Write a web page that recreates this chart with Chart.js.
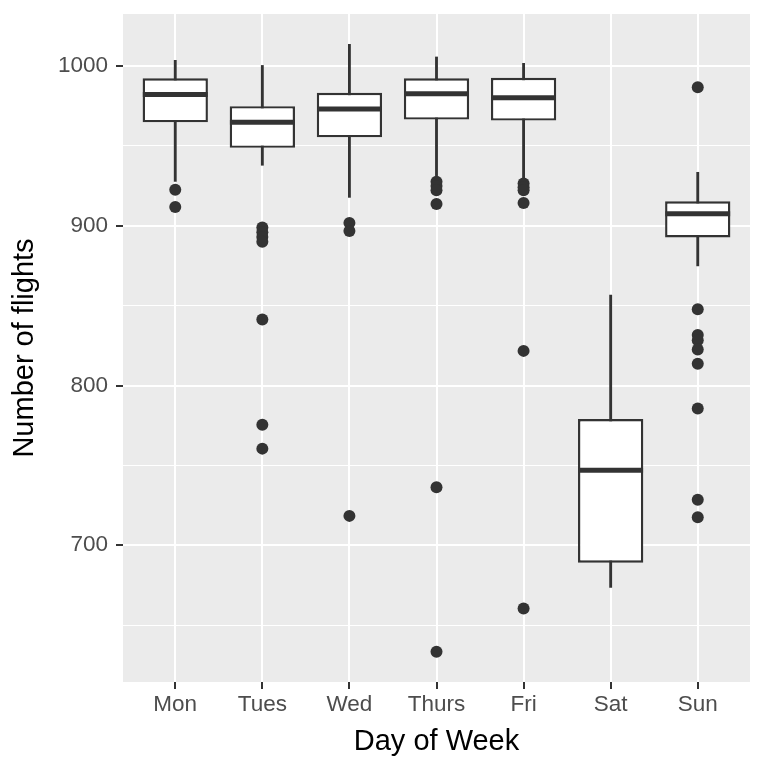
<!DOCTYPE html>
<html>
<head>
<meta charset="utf-8">
<script src="https://cdn.jsdelivr.net/npm/chart.js@4/dist/chart.umd.min.js"></script>
<style>
  html, body { margin: 0; padding: 0; background: #ffffff; }
  #wrap { width: 768px; height: 768px; }
</style>
</head>
<body>
<div id="wrap"><canvas id="flightsChart" width="768" height="768"></canvas></div>
<script>

/*=========================================
DATA
=========================================*/

const days = ["Mon", "Tues", "Wed", "Thurs", "Fri", "Sat", "Sun"];

const whiskerHigh = [1003.6, 1000.4, 1013.6, 1005.7, 1001.7, 856.7, 933.5];
const upperQuartile = [992.3, 974.9, 983.3, 992.3, 992.7, 779.0, 915.3];
const medians = [982.2, 964.8, 973.2, 982.7, 980.2, 746.9, 907.5];
const lowerQuartile = [964.8, 948.8, 955.4, 966.5, 965.9, 689.1, 892.7];
const whiskerLow = [927.8, 937.9, 917.8, 931.4, 929.3, 673.6, 874.9];

const outliers = [
    [922.6, 911.7],
    [899, 896, 893, 890, 841.4, 775.5, 760.5],
    [901.7, 896.7, 718.4],
    [927.6, 924.9, 922.2, 913.7, 736.3, 633.4],
    [926.5, 924.2, 922.2, 914.3, 821.7, 660.4],
    [],
    [986.8, 847.7, 831.6, 828.4, 822.6, 813.6, 785.6, 728.5, 717.5]
];

const yTicks = [650, 700, 750, 800, 850, 900, 950, 1000];
const yMin = 614.4;
const yMax = 1032.6;

/*=========================================
BUILD DATASETS
=========================================*/

const boxData = days.map((d, i) => ({ x: i + 1, y: [lowerQuartile[i], upperQuartile[i]] }));
const whiskerData = days.map((d, i) => ({ x: i + 1, y: [whiskerLow[i], whiskerHigh[i]] }));
const medianData = days.map((d, i) => ({ x: i + 1, y: medians[i] }));

const outlierData = [];
outliers.forEach((list, i) => {
    list.forEach(v => outlierData.push({ x: i + 1, y: v }));
});

const ink = "#333333";
const fontFamily = "'Liberation Sans', Arial, Helvetica, sans-serif";

/*=========================================
PANEL BACKGROUND
=========================================*/

const panelBackground = {
    id: "panelBackground",
    beforeDraw(chart) {
        const { ctx, chartArea } = chart;
        ctx.save();
        ctx.fillStyle = "#EBEBEB";
        ctx.fillRect(chartArea.left, chartArea.top, chartArea.right - chartArea.left, chartArea.bottom - chartArea.top);
        ctx.restore();
    }
};

/*=========================================
CHART
=========================================*/

new Chart(document.getElementById("flightsChart"), {

    type: "bar",

    data: {
        datasets: [
            {
                type: "scatter",
                data: outlierData,
                backgroundColor: ink,
                borderWidth: 0,
                pointRadius: 6,
                order: 1
            },
            {
                type: "scatter",
                data: medianData,
                pointStyle: "line",
                pointRadius: 32.4,
                borderColor: ink,
                borderWidth: 5,
                order: 2
            },
            {
                data: boxData,
                backgroundColor: "#ffffff",
                borderColor: ink,
                borderWidth: 2.4,
                borderSkipped: false,
                grouped: false,
                barPercentage: 0.75,
                categoryPercentage: 1,
                order: 3
            },
            {
                data: whiskerData,
                backgroundColor: ink,
                borderWidth: 0,
                barThickness: 2.2,
                grouped: false,
                order: 4
            }
        ]
    },

    options: {
        responsive: false,
        animation: false,
        events: [],
        layout: {
            autoPadding: false,
            padding: { top: 14, right: 18, bottom: 0, left: 0 }
        },
        plugins: {
            legend: { display: false },
            tooltip: { enabled: false }
        },
        scales: {
            x: {
                type: "linear",
                min: 0.4,
                max: 7.6,
                offset: false,
                afterBuildTicks: scale => {
                    scale.ticks = days.map((d, i) => ({ value: i + 1 }));
                },
                afterFit: scale => {
                    scale.height = 86;
                    scale.paddingLeft = 0;
                    scale.paddingRight = 0;
                },
                ticks: {
                    callback: value => days[value - 1],
                    color: "#4D4D4D",
                    padding: 2,
                    maxRotation: 0,
                    autoSkip: false,
                    font: { family: fontFamily, size: 22.5 }
                },
                grid: {
                    offset: false,
                    color: "#ffffff",
                    lineWidth: 2,
                    tickColor: ink,
                    tickLength: 7,
                    tickWidth: 2
                },
                border: { display: false },
                title: {
                    display: true,
                    text: "Day of Week",
                    color: "#000000",
                    font: { family: fontFamily, size: 29 },
                    padding: { top: 0, bottom: 9 }
                }
            },
            y: {
                type: "linear",
                min: yMin,
                max: yMax,
                afterBuildTicks: scale => {
                    scale.ticks = yTicks.map(v => ({ value: v }));
                },
                afterFit: scale => {
                    scale.width = 123;
                    scale.paddingTop = 0;
                    scale.paddingBottom = 0;
                },
                ticks: {
                    callback: value => (value % 100 === 0 ? value : ""),
                    color: "#4D4D4D",
                    padding: 8,
                    font: { family: fontFamily, size: 22.5 }
                },
                grid: {
                    color: "#ffffff",
                    lineWidth: ctx => (ctx.tick && ctx.tick.value % 100 === 0 ? 2 : 1),
                    tickColor: ctx => (ctx.tick && ctx.tick.value % 100 === 0 ? ink : "rgba(0,0,0,0)"),
                    tickLength: 7,
                    tickWidth: 2
                },
                border: { display: false },
                title: {
                    display: true,
                    text: "Number of flights",
                    color: "#000000",
                    font: { family: fontFamily, size: 29 },
                    padding: { top: 8, bottom: 0 }
                }
            }
        }
    },

    plugins: [panelBackground]

});

</script>
</body>
</html>
